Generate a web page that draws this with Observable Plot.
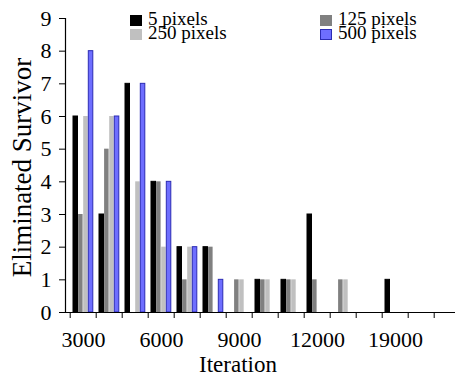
<!DOCTYPE html>
<html>
<head>
<meta charset="utf-8">
<script src="https://cdn.jsdelivr.net/npm/d3@7"></script>
<script src="https://cdn.jsdelivr.net/npm/@observablehq/plot@0.6"></script>
<style>
  html, body { margin: 0; padding: 0; background: #fff; }
  #wrap { position: relative; width: 455px; height: 374px; overflow: hidden; font-family: "Liberation Serif", "DejaVu Serif", serif; }
  .legend { position: absolute; font-size: 19px; line-height: 15px; color: #000; white-space: nowrap; }
  .legend .sw { display: inline-block; width: 12px; height: 11px; margin-right: 6px; vertical-align: -1px; box-sizing: border-box; }
</style>
</head>
<body>
<div id="wrap"></div>
<script>
const categories = ["3000","4000","5000","6000","7000","8000","9000","10000","11000","12000","13000","14000","19000","20000","21000"];
const xTickLabels = ["3000","6000","9000","12000","19000"];
const yTicks = [0,1,2,3,4,5,6,7,8,9];
const series = ["5 pixels","125 pixels","250 pixels","500 pixels"];
const px5   = [6,3,7,4,2,2,0,1,1,3,0,0,1,0,0];
const px125 = [3,5,0,4,1,2,1,1,1,1,1,0,0,0,0];
const px250 = [6,6,4,2,2,0,1,1,1,0,1,0,0,0,0];
const px500 = [8,6,7,4,2,1,0,0,0,0,0,0,0,0,0];
const values = [px5, px125, px250, px500];
const fills = ["#000000","#808080","#c0c0c0","#6e6eff"];
const strokes = ["#000000","none","none","#2c2cb4"];

const width = 455, height = 374;
const marginLeft = 65, marginRight = -9, marginTop = 18, marginBottom = 62;
const bw = (width - marginLeft - marginRight) / categories.length;
const barW = 5.1, groupPad = 3;

const data = [];
series.forEach((s, i) => categories.forEach((c, j) => data.push({series: s, cat: c, value: values[i][j]})));

const barMarks = series.map((s, i) => Plot.barY(
  data.filter(d => d.series === s && d.value > 0),
  {x: "cat", y: "value", fill: fills[i], stroke: strokes[i], strokeWidth: 1,
   insetLeft: groupPad + barW * i, insetRight: bw - groupPad - barW * (i + 1)}
));

const chart = Plot.plot({
  width, height, marginLeft, marginRight, marginTop, marginBottom,
  style: {fontFamily: "Liberation Serif", fontSize: "22px", color: "#000", background: "#fff", overflow: "hidden"},
  x: {domain: categories, padding: 0},
  y: {domain: [0, 9]},
  marks: [
    ...barMarks,
    Plot.ruleY([0], {stroke: "#000", strokeWidth: 1.2}),
    Plot.frame({anchor: "left", stroke: "#000", strokeWidth: 1.2}),
    Plot.axisY({ticks: yTicks, tickSize: 6, tickPadding: 8, label: null, stroke: "#000", fontSize: 22}),
    Plot.axisX({tickSize: 6, tickFormat: () => "", dx: -bw / 2, label: null, stroke: "#000"}),
    Plot.axisX({ticks: xTickLabels, tickSize: 0, tickPadding: 19, label: null, fontSize: 22}),
    Plot.text(["Iteration"], {frameAnchor: "bottom", text: d => d, textAnchor: "middle", dx: -27, dy: 52, lineAnchor: "middle", fontSize: 23}),
    Plot.text(["Eliminated Survivor"], {frameAnchor: "left", text: d => d, textAnchor: "middle", lineAnchor: "middle", rotate: -90, dx: -43, dy: 2, fontSize: 27})
  ]
});

const wrap = document.getElementById("wrap");
wrap.appendChild(chart);

const legendPos = [[130, 11], [320, 11], [130, 25], [320, 25]];
series.forEach((s, i) => {
  const div = document.createElement("div");
  div.className = "legend";
  div.style.left = legendPos[i][0] + "px";
  div.style.top = legendPos[i][1] + "px";
  const sw = document.createElement("span");
  sw.className = "sw";
  sw.style.background = fills[i];
  if (strokes[i] !== "none") sw.style.border = "1px solid " + strokes[i];
  div.appendChild(sw);
  div.appendChild(document.createTextNode(s));
  wrap.appendChild(div);
});
</script>
</body>
</html>
